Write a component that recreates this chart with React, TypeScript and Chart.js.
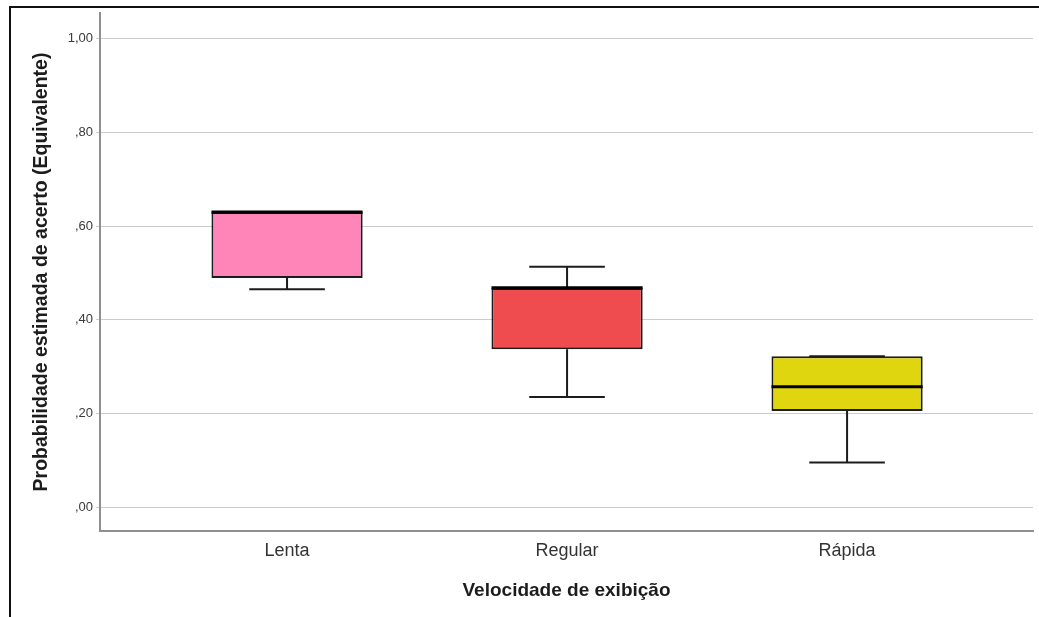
import React, { useEffect, useRef } from "react";
import { Chart, registerables } from "chart.js";

Chart.register(...registerables);

// Box-plot summary per display speed
const categories = ["Lenta", "Regular", "Rápida"];
const whiskerLow = [0.465, 0.235, 0.095];
const q1 = [0.489, 0.337, 0.205];
const medians = [0.63, 0.468, 0.257];
const q3 = [0.63, 0.468, 0.322];
const whiskerHigh = [0.63, 0.513, 0.322];
const boxColors = ["#FF85B9", "#EF4C4F", "#E0D60F"];

const yTickValues = [0, 0.2, 0.4, 0.6, 0.8, 1.0];
const yTickLabels = [",00", ",20", ",40", ",60", ",80", "1,00"];

const FONT = "'Liberation Sans', Arial, sans-serif";
const INK = "#1c1c1c";

// Draws whiskers, caps and median lines on top of the floating-bar boxes
const boxWhiskers = {
  id: "boxWhiskers",
  afterDatasetsDraw(chart: any) {
    const { ctx, scales } = chart;
    const xs = scales.x;
    const ys = scales.y;
    const meta = chart.getDatasetMeta(0);
    ctx.save();
    ctx.strokeStyle = INK;
    ctx.lineCap = "butt";
    categories.forEach((_, i) => {
      const bar = meta.data[i];
      const cx = xs.getPixelForValue(i);
      const half = bar.width / 2;
      const capHalf = half / 2;
      const yLo = ys.getPixelForValue(whiskerLow[i]);
      const yQ1 = ys.getPixelForValue(q1[i]);
      const yQ3 = ys.getPixelForValue(q3[i]);
      const yHi = ys.getPixelForValue(whiskerHigh[i]);
      const yMed = ys.getPixelForValue(medians[i]);

      ctx.lineWidth = 2;
      ctx.beginPath();
      ctx.moveTo(cx, yQ1);
      ctx.lineTo(cx, yLo);
      ctx.moveTo(cx - capHalf, yLo);
      ctx.lineTo(cx + capHalf, yLo);
      ctx.moveTo(cx, yQ3);
      ctx.lineTo(cx, yHi);
      ctx.moveTo(cx - capHalf, yHi);
      ctx.lineTo(cx + capHalf, yHi);
      ctx.stroke();

      ctx.lineWidth = 3.2;
      ctx.strokeStyle = "#000";
      ctx.beginPath();
      ctx.moveTo(cx - half, yMed);
      ctx.lineTo(cx + half, yMed);
      ctx.stroke();
      ctx.strokeStyle = INK;
    });
    ctx.restore();
  },
};

export default function App() {
  const canvasRef = useRef<HTMLCanvasElement | null>(null);

  useEffect(() => {
    const canvas = canvasRef.current;
    if (!canvas) return;
    const chart = new Chart(canvas, {
      type: "bar",
      data: {
        datasets: [
          {
            data: categories.map((_, i) => ({ x: i, y: [q1[i], q3[i]] })) as any,
            backgroundColor: boxColors,
            borderColor: INK,
            borderWidth: 2,
            borderSkipped: false,
            categoryPercentage: 1,
            barPercentage: 0.54,
          },
        ],
      },
      options: {
        animation: false,
        responsive: false,
        maintainAspectRatio: false,
        layout: { padding: { top: 13, right: 6, left: 0, bottom: 0 } },
        plugins: {
          legend: { display: false },
          tooltip: { enabled: false },
        },
        scales: {
          x: {
            type: "linear",
            offset: false,
            min: -0.668,
            max: 2.664,
            afterBuildTicks: (scale: any) => {
              scale.ticks = categories.map((_, i) => ({ value: i }));
            },
            afterFit: (scale: any) => {
              scale.height = 86;
            },
            grid: { display: false, drawTicks: false, offset: false },
            border: { display: true, color: "#8f8f8f", width: 2 },
            ticks: {
              autoSkip: false,
              maxRotation: 0,
              padding: 9,
              color: "#333",
              font: { family: FONT, size: 18 },
              callback: (v: any) => categories[Number(v)] ?? "",
            },
            title: {
              display: true,
              text: "Velocidade de exibição",
              color: INK,
              font: { family: FONT, size: 19, weight: "bold" },
              padding: { top: 0, bottom: 15 },
            },
          },
          y: {
            type: "linear",
            min: -0.051,
            max: 1.055,
            afterBuildTicks: (scale: any) => {
              scale.ticks = yTickValues.map((v) => ({ value: v }));
            },
            afterFit: (scale: any) => {
              scale.width = 100;
            },
            grid: { color: "#cccccc", lineWidth: 1, tickLength: 4, drawTicks: true },
            border: { display: true, color: "#8f8f8f", width: 2 },
            ticks: {
              padding: 3,
              color: "#3a3a3a",
              font: { family: FONT, size: 13 },
              callback: (v: any) => {
                const idx = yTickValues.findIndex((t) => Math.abs(t - Number(v)) < 1e-9);
                return idx >= 0 ? yTickLabels[idx] : "";
              },
            },
            title: {
              display: true,
              text: "Probabilidade estimada de acerto (Equivalente)",
              color: INK,
              font: { family: FONT, size: 19.5, weight: "bold" },
              padding: { top: 30, bottom: 0 },
            },
          },
        },
      },
      plugins: [boxWhiskers],
    });
    return () => chart.destroy();
  }, []);

  return (
    <div
      style={{
        position: "absolute",
        left: 0,
        top: 0,
        width: 1039,
        height: 617,
        background: "#fff",
        overflow: "hidden",
      }}
    >
      <div
        style={{
          position: "absolute",
          left: 9,
          top: 6,
          width: 1100,
          height: 700,
          borderLeft: "2px solid #111",
          borderTop: "2px solid #111",
        }}
      />
      <canvas
        ref={canvasRef}
        width={1039}
        height={617}
        style={{ position: "absolute", left: 0, top: 0, width: 1039, height: 617 }}
      />
    </div>
  );
}
